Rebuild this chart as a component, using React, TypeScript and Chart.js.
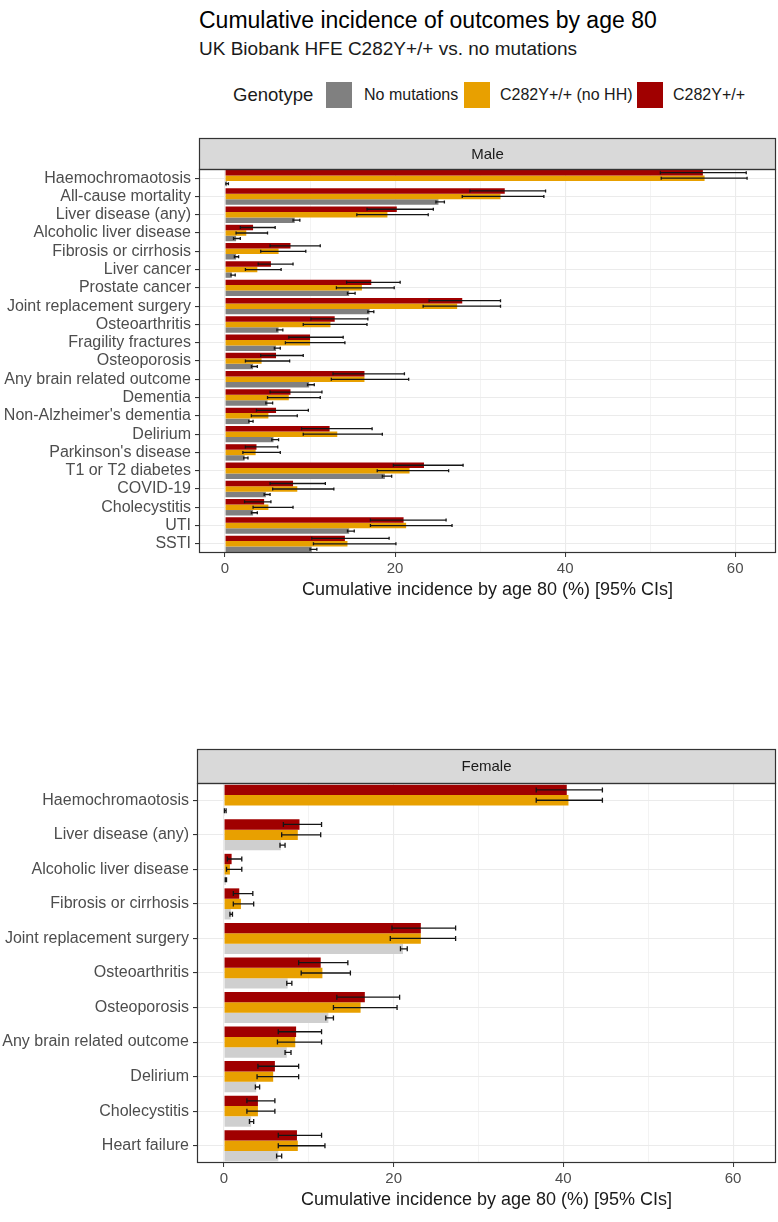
import React, { useEffect, useRef } from 'react';
import { Chart, registerables } from 'chart.js';

Chart.register(...registerables);

// ---------------- DATA ----------------
const seriesNames = ['No mutations', 'C282Y+/+ (no HH)', 'C282Y+/+'];

const maleCategories = [
  'Haemochromaotosis', 'All-cause mortality', 'Liver disease (any)', 'Alcoholic liver disease',
  'Fibrosis or cirrhosis', 'Liver cancer', 'Prostate cancer', 'Joint replacement surgery',
  'Osteoarthritis', 'Fragility fractures', 'Osteoporosis', 'Any brain related outcome',
  'Dementia', "Non-Alzheimer's dementia", 'Delirium', "Parkinson's disease",
  'T1 or T2 diabetes', 'COVID-19', 'Cholecystitis', 'UTI', 'SSTI',
];
const maleHom = [56.2, 32.9, 20.2, 3.3, 7.7, 5.4, 17.2, 27.9, 12.9, 10.0, 6.0, 16.4, 7.7, 6.0, 12.3, 3.7, 23.4, 8.0, 4.6, 21.0, 14.1];
const maleHomLo = [51.2, 28.8, 16.7, 1.8, 5.3, 3.9, 14.3, 24.0, 10.1, 7.5, 4.2, 12.7, 5.3, 3.7, 9.0, 2.4, 19.8, 5.3, 2.3, 17.1, 10.2];
const maleHomHi = [61.3, 37.7, 24.5, 5.9, 11.2, 8.0, 20.6, 32.4, 16.8, 13.9, 9.2, 21.1, 11.4, 9.8, 17.3, 6.2, 28.0, 11.8, 5.4, 26.0, 19.3];
const maleNoHH = [56.4, 32.4, 19.1, 2.5, 6.3, 3.8, 16.1, 27.3, 12.4, 10.0, 4.3, 16.4, 7.5, 5.1, 13.2, 3.6, 21.7, 8.5, 5.1, 21.3, 14.4];
const maleNoHHLo = [51.3, 27.9, 15.5, 1.3, 4.2, 2.4, 13.1, 23.3, 9.2, 7.1, 2.4, 12.5, 5.0, 3.1, 9.2, 2.1, 17.9, 5.6, 3.3, 17.1, 10.4];
const maleNoHHHi = [61.4, 37.5, 23.9, 5.0, 9.5, 6.6, 19.9, 32.4, 16.7, 14.1, 7.6, 21.6, 11.2, 8.5, 18.5, 6.5, 26.3, 12.8, 8.0, 26.7, 20.1];
const maleNone = [0.2, 25.1, 8.2, 1.3, 1.3, 0.8, 14.6, 17.0, 6.3, 6.0, 3.3, 9.9, 5.0, 2.9, 5.7, 2.3, 18.8, 4.8, 3.3, 14.6, 10.2];
const maleNoneLo = [0.1, 24.8, 8.0, 1.0, 1.1, 0.7, 14.4, 16.8, 6.1, 5.8, 3.1, 9.7, 4.8, 2.8, 5.5, 2.2, 18.5, 4.6, 3.1, 14.4, 10.0];
const maleNoneHi = [0.4, 25.8, 8.8, 1.8, 1.6, 1.2, 15.3, 17.5, 6.8, 6.5, 3.8, 10.5, 5.6, 3.3, 6.3, 2.7, 19.6, 5.3, 3.8, 15.2, 10.8];

const femaleCategories = [
  'Haemochromaotosis', 'Liver disease (any)', 'Alcoholic liver disease', 'Fibrosis or cirrhosis',
  'Joint replacement surgery', 'Osteoarthritis', 'Osteoporosis', 'Any brain related outcome',
  'Delirium', 'Cholecystitis', 'Heart failure',
];
const femaleHom = [40.4, 8.9, 0.9, 1.8, 23.2, 11.4, 16.6, 8.5, 6.0, 4.0, 8.6];
const femaleHomLo = [36.8, 7.0, 0.4, 1.1, 19.8, 8.8, 13.3, 6.4, 4.0, 2.7, 6.4];
const femaleHomHi = [44.6, 11.5, 2.1, 3.4, 27.3, 14.6, 20.7, 11.5, 8.8, 6.0, 11.5];
const femaleNoHH = [40.6, 8.7, 0.7, 2.0, 23.2, 11.6, 16.1, 8.4, 5.8, 4.0, 8.7];
const femaleNoHHLo = [36.8, 6.8, 0.3, 1.1, 19.6, 9.1, 12.9, 6.3, 3.9, 2.7, 6.4];
const femaleNoHHHi = [44.6, 11.4, 2.1, 3.5, 27.3, 14.9, 20.4, 11.5, 8.8, 6.0, 11.9];
const femaleNone = [0.1, 6.7, 0.2, 0.8, 21.1, 7.5, 12.3, 7.4, 3.8, 3.2, 6.4];
const femaleNoneLo = [0.05, 6.6, 0.15, 0.7, 20.8, 7.4, 12.0, 7.2, 3.7, 3.0, 6.2];
const femaleNoneHi = [0.25, 7.2, 0.3, 1.0, 21.6, 8.0, 12.9, 7.9, 4.2, 3.5, 6.8];

const xTickLabels = [0, 20, 40, 60];

// ---------------- STYLE ----------------
const FONT = '"Liberation Sans", Arial, Helvetica, sans-serif';
const RED = '#A00000';
const ORANGE = '#E8A000';
const GREY_M = '#808080';
const GREY_F = '#CFCFCF';
const AXIS_TITLE = 'Cumulative incidence by age 80 (%) [95% CIs]';

const errorBarPlugin = {
  id: 'errorBars',
  afterDatasetsDraw(chart: any, _args: any, opts: any) {
    const ctx = chart.ctx;
    const xs = chart.scales.x;
    ctx.save();
    ctx.strokeStyle = opts.color || '#111';
    ctx.lineWidth = opts.lineWidth || 1.3;
    const cap = opts.cap || 1.5;
    chart.data.datasets.forEach((ds: any, i: number) => {
      const meta = chart.getDatasetMeta(i);
      meta.data.forEach((el: any, j: number) => {
        const y = el.y;
        const x1 = xs.getPixelForValue(ds.lo[j]);
        const x2 = xs.getPixelForValue(ds.hi[j]);
        ctx.beginPath();
        ctx.moveTo(x1, y);
        ctx.lineTo(x2, y);
        ctx.moveTo(x1, y - cap);
        ctx.lineTo(x1, y + cap);
        ctx.moveTo(x2, y - cap);
        ctx.lineTo(x2, y + cap);
        ctx.stroke();
      });
    });
    ctx.restore();
  },
};

const panelPlugin = {
  id: 'panelFrame',
  afterDraw(chart: any, _args: any, opts: any) {
    const ctx = chart.ctx;
    const a = chart.chartArea;
    const h = opts.stripHeight;
    ctx.save();
    ctx.fillStyle = '#D9D9D9';
    ctx.fillRect(a.left, a.top - h, a.right - a.left, h);
    ctx.strokeStyle = '#333333';
    ctx.lineWidth = 1.2;
    ctx.strokeRect(a.left + 0.5, a.top - h + 0.5, a.right - a.left - 1, h);
    ctx.strokeRect(a.left + 0.5, a.top + 0.5, a.right - a.left - 1, a.bottom - a.top - 1);
    ctx.fillStyle = '#1A1A1A';
    ctx.font = `15px ${FONT}`;
    ctx.textAlign = 'center';
    ctx.textBaseline = 'middle';
    ctx.fillText(opts.label, (a.left + a.right) / 2, a.top - h / 2 + 1);
    ctx.restore();
  },
};

type PanelProps = {
  top: number;
  height: number;
  categories: string[];
  hom: number[]; homLo: number[]; homHi: number[];
  noHH: number[]; noHHLo: number[]; noHHHi: number[];
  none: number[]; noneLo: number[]; noneHi: number[];
  grey: string;
  label: string;
  xMin: number; xMax: number;
  yWidth: number;
  padTop: number;
  stripHeight: number;
  xHeight: number;
  titlePad: number;
  cap: number;
};

function Panel(p: PanelProps) {
  const ref = useRef<HTMLCanvasElement | null>(null);
  useEffect(() => {
    if (!ref.current) return;
    const chart = new Chart(ref.current, {
      type: 'bar',
      data: {
        labels: p.categories,
        datasets: [
          { label: seriesNames[2], data: p.hom, lo: p.homLo, hi: p.homHi, backgroundColor: RED, borderWidth: 0 } as any,
          { label: seriesNames[1], data: p.noHH, lo: p.noHHLo, hi: p.noHHHi, backgroundColor: ORANGE, borderWidth: 0 } as any,
          { label: seriesNames[0], data: p.none, lo: p.noneLo, hi: p.noneHi, backgroundColor: p.grey, borderWidth: 0 } as any,
        ],
      },
      options: {
        indexAxis: 'y',
        responsive: false,
        animation: false,
        devicePixelRatio: 1,
        layout: { padding: { top: p.padTop, right: 2, bottom: 0, left: 0 } },
        datasets: { bar: { categoryPercentage: 0.9, barPercentage: 1 } },
        plugins: {
          legend: { display: false },
          tooltip: { enabled: false },
          errorBars: { color: '#151515', lineWidth: 1.3, cap: p.cap },
          panelFrame: { stripHeight: p.stripHeight, label: p.label },
        } as any,
        scales: {
          x: {
            type: 'linear',
            min: p.xMin,
            max: p.xMax,
            afterFit: (s: any) => { s.height = p.xHeight; },
            border: { display: false },
            grid: {
              color: '#EBEBEB',
              lineWidth: (c: any) => (c.tick && c.tick.value % 20 === 0 ? 1.1 : 0.6),
              tickColor: (c: any) => (c.tick && xTickLabels.includes(c.tick.value) ? '#333333' : 'rgba(0,0,0,0)'),
              tickLength: 4,
              tickWidth: 1,
            },
            ticks: {
              stepSize: 10,
              includeBounds: false,
              autoSkip: false,
              maxRotation: 0,
              padding: 3,
              color: '#4D4D4D',
              font: { family: FONT, size: 15 },
              callback: (v: any) => (xTickLabels.includes(Number(v)) ? String(v) : ''),
            },
            title: {
              display: true,
              text: AXIS_TITLE,
              color: '#1A1A1A',
              font: { family: FONT, size: 18 },
              padding: { top: p.titlePad, bottom: p.titlePad },
            },
          },
          y: {
            type: 'category',
            afterFit: (s: any) => { s.width = p.yWidth; },
            border: { display: false },
            grid: {
              offset: false,
              color: '#EBEBEB',
              lineWidth: 1.1,
              tickColor: '#333333',
              tickLength: 4,
            },
            ticks: {
              autoSkip: false,
              padding: 4,
              color: '#4D4D4D',
              font: { family: FONT, size: 16, lineHeight: 1 },
            },
          },
        },
      } as any,
      plugins: [errorBarPlugin, panelPlugin],
    });
    return () => chart.destroy();
  }, []);
  return (
    <canvas
      ref={ref}
      width={778}
      height={p.height}
      style={{ position: 'absolute', left: 0, top: p.top, width: 778, height: p.height }}
    />
  );
}

const legendBox = (left: number, color: string) => (
  <div style={{ position: 'absolute', left, top: 82, width: 26, height: 26, background: color }} />
);
const legendText = (left: number, text: string, size: number) => (
  <div style={{ position: 'absolute', left, top: 95 - size * 0.6, fontSize: size, lineHeight: `${size * 1.2}px`, color: '#1A1A1A', whiteSpace: 'nowrap' }}>{text}</div>
);

export default function App() {
  return (
    <div style={{ position: 'absolute', left: 0, top: 0, width: 778, height: 1222, background: '#fff', fontFamily: FONT, overflow: 'hidden' }}>
      <div style={{ position: 'absolute', left: 199, top: 6, fontSize: 23, lineHeight: '28px', color: '#000', whiteSpace: 'nowrap' }}>
        Cumulative incidence of outcomes by age 80
      </div>
      <div style={{ position: 'absolute', left: 199, top: 37, fontSize: 19, lineHeight: '23px', color: '#1A1A1A', whiteSpace: 'nowrap' }}>
        UK Biobank HFE C282Y+/+ vs. no mutations
      </div>
      {legendText(233, 'Genotype', 18.5)}
      {legendBox(326, GREY_M)}
      {legendText(364, seriesNames[0], 16)}
      {legendBox(464, ORANGE)}
      {legendText(500, seriesNames[1], 16)}
      {legendBox(637, RED)}
      {legendText(673, seriesNames[2], 16)}
      <Panel
        top={130} height={480}
        categories={maleCategories}
        hom={maleHom} homLo={maleHomLo} homHi={maleHomHi}
        noHH={maleNoHH} noHHLo={maleNoHHLo} noHHHi={maleNoHHHi}
        none={maleNone} noneLo={maleNoneLo} noneHi={maleNoneHi}
        grey={GREY_M} label="Male"
        xMin={-3.06} xMax={64.8}
        yWidth={199} padTop={39} stripHeight={31} xHeight={57} titlePad={9.2} cap={1.5}
      />
      <Panel
        top={740} height={482}
        categories={femaleCategories}
        hom={femaleHom} homLo={femaleHomLo} homHi={femaleHomHi}
        noHH={femaleNoHH} noHHLo={femaleNoHHLo} noHHHi={femaleNoHHHi}
        none={femaleNone} noneLo={femaleNoneLo} noneHi={femaleNoneHi}
        grey={GREY_F} label="Female"
        xMin={-3.18} xMax={65.06}
        yWidth={197} padTop={43} stripHeight={34} xHeight={59} titlePad={11.2} cap={2.5}
      />
    </div>
  );
}
